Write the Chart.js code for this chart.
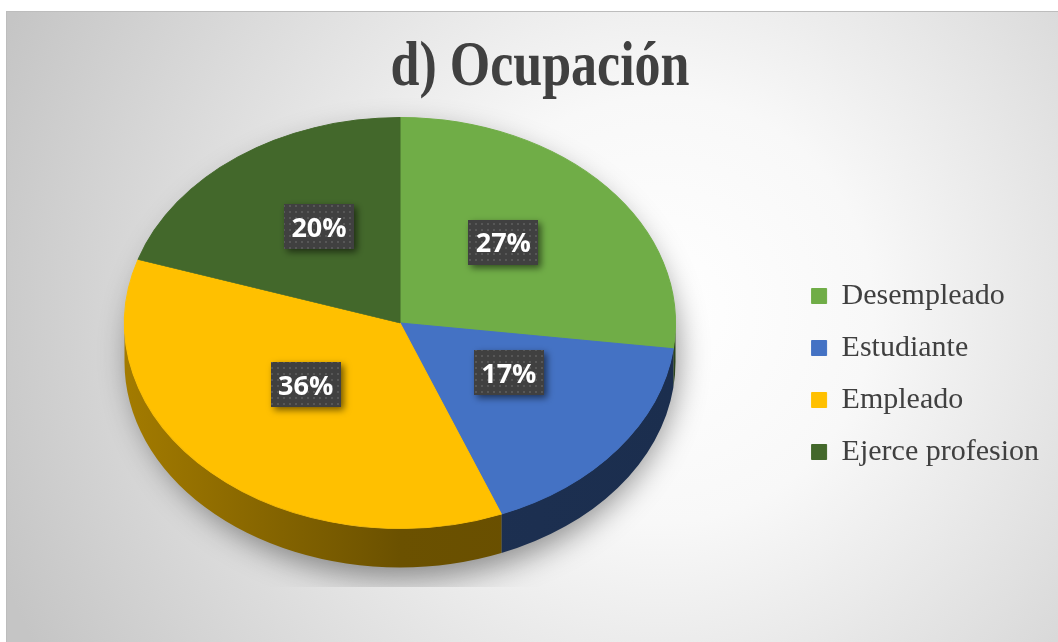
<!DOCTYPE html>
<html>
<head>
<meta charset="utf-8">
<script src="https://cdn.jsdelivr.net/npm/chart.js@4.4.1/dist/chart.umd.min.js"></script>
<style>
  html, body { margin: 0; padding: 0; background: #fff; }
  canvas { display: block; }
</style>
</head>
<body>
<canvas id="occupation-chart" width="1058" height="642"></canvas>
<script>
const categories = ['Desempleado', 'Estudiante', 'Empleado', 'Ejerce profesion'];
const shares = [27, 17, 36, 20];
const sliceColors = ['#70ad47', '#4472c4', '#ffc000', '#43682b'];
const chartTitle = 'd) Ocupación';

// the pie is shown as a tilted disc: ellipse centre, radii and wall height
const PIE_CX = 400, PIE_CY = 323, PIE_RX = 275.5, PIE_RY = 205.5, PIE_DEPTH = 39;

function shade(hex, f) {
    const n = parseInt(hex.slice(1), 16);
    const r = Math.round(((n >> 16) & 255) * f);
    const g = Math.round(((n >> 8) & 255) * f);
    const b = Math.round((n & 255) * f);
    return `rgb(${r},${g},${b})`;
}

// dotted fill for the value boxes
function dotPattern(ctx) {
    const c = document.createElement('canvas');
    c.width = 6; c.height = 6;
    const p = c.getContext('2d');
    p.fillStyle = '#404040';
    p.fillRect(0, 0, 6, 6);
    p.fillStyle = '#575757';
    p.fillRect(1, 1, 2, 2);
    return ctx.createPattern(c, 'repeat');
}

const backdrop = {
    id: 'backdrop',
    beforeDraw(chart) {
        const ctx = chart.ctx;
        const w = chart.width, h = chart.height;
        ctx.save();
        ctx.fillStyle = '#fff';
        ctx.fillRect(0, 0, w, h);
        const g = ctx.createRadialGradient(660, 310, 0, 660, 310, 710);
        g.addColorStop(0, '#ffffff');
        g.addColorStop(0.3, '#f8f8f8');
        g.addColorStop(1, '#c5c5c5');
        ctx.fillStyle = g;
        ctx.fillRect(7, 12, w - 7, h - 12);
        ctx.strokeStyle = '#bdbdbd';
        ctx.lineWidth = 1;
        ctx.strokeRect(6.5, 11.5, w, h);

        // title, a bit taller than wide
        ctx.fillStyle = '#404040';
        ctx.font = 'bold 52px "Liberation Serif"';
        ctx.textAlign = 'center';
        ctx.textBaseline = 'alphabetic';
        ctx.translate(540, 85);
        ctx.scale(1, 1.2);
        ctx.fillText(chartTitle, 0, 0);
        ctx.restore();
    }
};

const tilt = {
    id: 'tilt',
    beforeDatasetsDraw(chart) {
        const ctx = chart.ctx;
        const arcs = chart.getDatasetMeta(0).data;
        const { x, y, outerRadius: r } = arcs[0];
        const sx = PIE_RX / r, sy = PIE_RY / r;
        const d = PIE_DEPTH / sy;

        ctx.save();
        // soft shadow under the disc, cut at the plot bottom
        ctx.save();
        ctx.beginPath();
        ctx.rect(0, 0, chart.width, 587);
        ctx.clip();
        ctx.shadowColor = 'rgba(0,0,0,0.42)';
        ctx.shadowBlur = 30;
        ctx.shadowOffsetX = 4;
        ctx.shadowOffsetY = 12;
        ctx.fillStyle = '#8a8a8a';
        ctx.beginPath();
        ctx.ellipse(PIE_CX, PIE_CY + PIE_DEPTH / 2, PIE_RX - 1, PIE_RY + PIE_DEPTH / 2 - 1, 0, 0, Math.PI * 2);
        ctx.fill();
        ctx.restore();

        ctx.translate(PIE_CX, PIE_CY);
        ctx.scale(sx, sy);
        ctx.translate(-x, -y);

        // walls on the near half of the disc
        arcs.forEach((arc, i) => {
            const a0 = Math.max(arc.startAngle, 0);
            const a1 = Math.min(arc.endAngle, Math.PI);
            if (a1 <= a0) return;
            const base = sliceColors[i];
            const g = ctx.createLinearGradient(x - r, 0, x + r, 0);
            g.addColorStop(0, shade(base, 0.64));
            g.addColorStop(0.5, shade(base, 0.42));
            g.addColorStop(1, shade(base, 0.40));
            ctx.fillStyle = g;
            ctx.beginPath();
            ctx.arc(x, y, r, a0, a1);
            ctx.arc(x, y + d, r, a1, a0, true);
            ctx.closePath();
            ctx.fill();
        });
    },
    afterDatasetsDraw(chart) {
        const ctx = chart.ctx;
        ctx.restore();

        const arcs = chart.getDatasetMeta(0).data;
        const { outerRadius: r } = arcs[0];
        const sx = PIE_RX / r, sy = PIE_RY / r;
        const total = shares.reduce((a, b) => a + b, 0);
        const fill = dotPattern(ctx);

        ctx.save();
        ctx.font = 'bold 27px "Open Sans"';
        ctx.textAlign = 'center';
        ctx.textBaseline = 'middle';
        arcs.forEach((arc, i) => {
            const mid = (arc.startAngle + arc.endAngle) / 2;
            const px = PIE_CX + Math.cos(mid) * r * 0.5 * sx;
            const py = PIE_CY + Math.sin(mid) * r * 0.5 * sy - 13;
            const text = Math.round(shares[i] / total * 100) + '%';
            const bw = ctx.measureText(text).width + 15;
            const bh = 45;

            ctx.save();
            ctx.shadowColor = 'rgba(0,0,0,0.55)';
            ctx.shadowBlur = 7;
            ctx.shadowOffsetX = 3;
            ctx.shadowOffsetY = 3;
            ctx.fillStyle = fill;
            ctx.fillRect(Math.round(px - bw / 2), Math.round(py - bh / 2), Math.round(bw), bh);
            ctx.restore();

            ctx.fillStyle = '#ffffff';
            ctx.fillText(text, px, py + 2);
        });
        ctx.restore();
    }
};

new Chart(document.getElementById('occupation-chart'), {
    type: 'pie',
    data: {
        labels: categories,
        datasets: [{
            data: shares,
            backgroundColor: sliceColors,
            borderColor: sliceColors,
            borderWidth: 1
        }]
    },
    options: {
        responsive: false,
        animation: false,
        devicePixelRatio: 1,
        layout: {
            padding: { top: 106, right: 9, bottom: 0, left: 0 }
        },
        plugins: {
            legend: {
                position: 'right',
                labels: {
                    font: { family: 'Liberation Serif', size: 30 },
                    color: '#404040',
                    boxWidth: 15,
                    boxHeight: 15,
                    padding: 22
                }
            },
            tooltip: { enabled: false }
        }
    },
    plugins: [backdrop, tilt]
});
</script>
</body>
</html>
